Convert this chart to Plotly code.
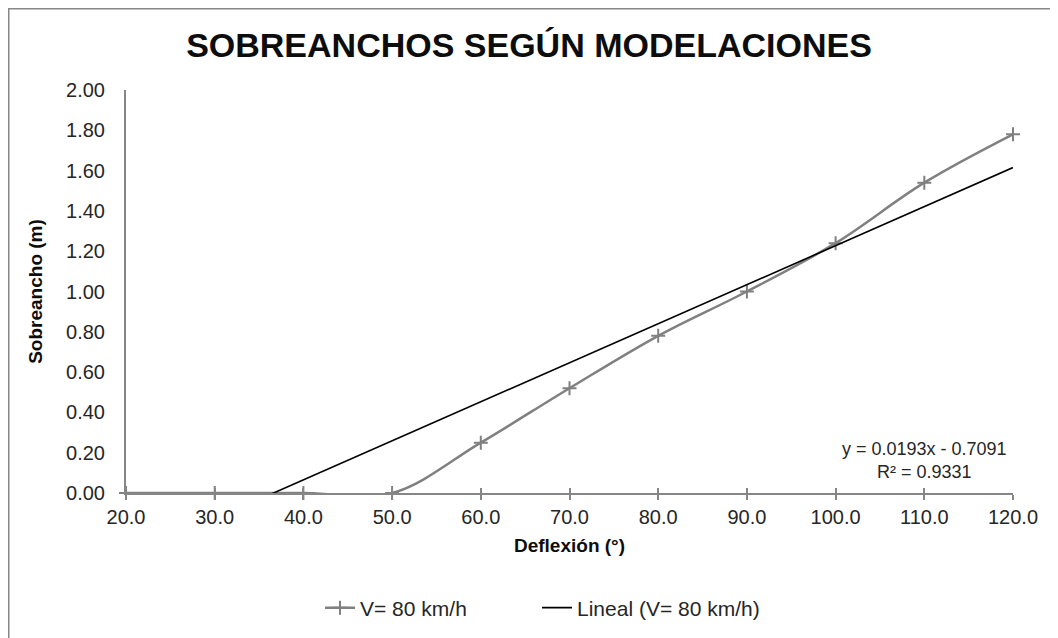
import numpy as np
import plotly.graph_objects as go

deflexion = [20, 30, 40, 50, 60, 70, 80, 90, 100, 110, 120]
sobreancho = [0.0, 0.0, 0.0, 0.0, 0.25, 0.52, 0.78, 1.00, 1.24, 1.54, 1.78]
series_name = "V= 80 km/h"
trend_name = "Lineal (V= 80 km/h)"
eq_text = "y = 0.0193x - 0.7091<br>R² = 0.9331"
title_text = "SOBREANCHOS SEGÚN MODELACIONES"
x_title = "Deflexión (°)"
y_title = "Sobreancho (m)"

slope, intercept = np.polyfit(deflexion, sobreancho, 1)
trend_x = [min(deflexion), max(deflexion)]
trend_y = [slope * v + intercept for v in trend_x]

# page body has an 8px margin, so positions are local to the figure
W, H = 1058, 638
L, R, T, B = 118, 53, 82, 153
pw, ph = W - L - R, H - T - B

FONT = "Liberation Sans, Arial, sans-serif"
GRAY = "#808080"
AX = "#868686"
TXT = "#262626"

fig = go.Figure()
fig.add_trace(go.Scatter(
    x=deflexion, y=sobreancho, name=series_name, mode="lines+markers",
    line=dict(color=GRAY, width=2.5, shape="spline", smoothing=1.0),
    marker=dict(symbol="cross-thin", size=10, line=dict(color=GRAY, width=2), color=GRAY),
    cliponaxis=False, legendwidth=172,
))
fig.add_trace(go.Scatter(
    x=trend_x, y=trend_y, name=trend_name, mode="lines",
    line=dict(color="#000000", width=1.6),
))
# helper invisible trace for inner tick marks
fig.add_trace(go.Scatter(x=trend_x, y=[None, None], xaxis="x2", showlegend=False,
                         hoverinfo="skip", mode="lines"))

fig.update_layout(
    width=W, height=H,
    margin=dict(l=L, r=R, t=T, b=B, autoexpand=False),
    paper_bgcolor="white", plot_bgcolor="white",
    font=dict(family=FONT, size=20, color=TXT),
    title=dict(text="<b>" + title_text + "</b>", x=(529 - 8) / W, xanchor="center", y=1 - 37 / H,
               yanchor="middle", font=dict(family=FONT, size=34, color="#0d0d0d")),
    xaxis=dict(range=[20, 120], tickvals=deflexion, tickformat=".1f",
               showgrid=False, zeroline=False, showline=True, linecolor=AX, linewidth=2,
               ticks="outside", ticklen=5, tickwidth=2, tickcolor=AX,
               title=dict(text="<b>" + x_title + "</b>", font=dict(size=19, color="#0d0d0d"), standoff=12),
               tickfont=dict(size=20, color=TXT)),
    xaxis2=dict(range=[20, 120], overlaying="x", anchor="y", side="bottom",
                tickvals=deflexion, showticklabels=False, showgrid=False, zeroline=False,
                showline=False, ticks="inside", ticklen=5, tickwidth=2, tickcolor=AX),
    yaxis=dict(range=[0, 2], dtick=0.2, tickformat=".2f",
               showgrid=False, zeroline=False, showline=True, linecolor=AX, linewidth=2,
               ticks="", ticklabelstandoff=15,
               title=dict(text="<b>" + y_title + "</b>", font=dict(size=19, color="#0d0d0d"), standoff=18),
               tickfont=dict(size=20, color=TXT)),
    legend=dict(orientation="h", x=(312 - L) / pw, xanchor="left", y=-(600 - (T + ph)) / ph,
                yanchor="middle", font=dict(size=21, color=TXT), bgcolor="rgba(0,0,0,0)"),
    showlegend=True,
)

fig.add_annotation(text=eq_text, x=(916 - L) / pw, y=(485 - 452) / ph, xref="paper", yref="paper",
                   xanchor="center", yanchor="middle", showarrow=False, align="center",
                   font=dict(size=18, color=TXT))

fig.add_shape(type="rect", xref="paper", yref="paper",
              x0=(0.5 - L) / pw, x1=2, y0=-2, y1=(T + ph - 0.5) / ph,
              line=dict(color="#888888", width=2), fillcolor="rgba(0,0,0,0)", layer="below")

fig.write_html("out.html")
